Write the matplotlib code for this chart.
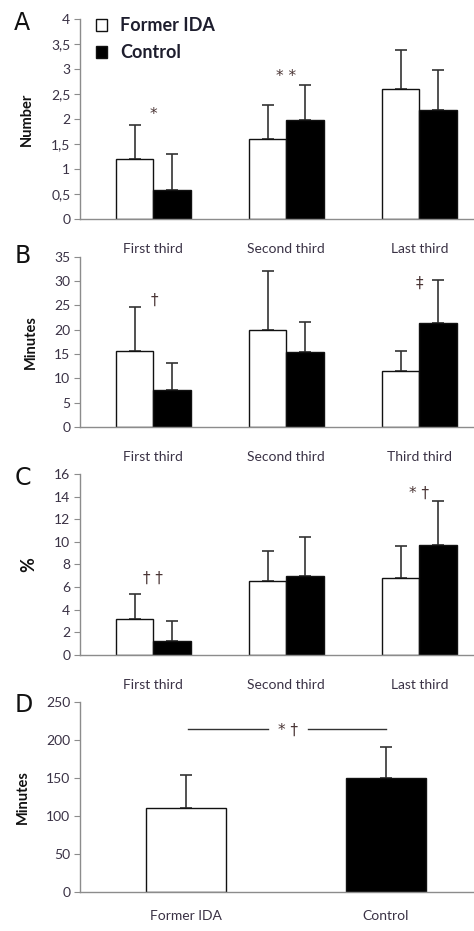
import matplotlib
matplotlib.use("Agg")
import matplotlib.pyplot as plt
import numpy as np

plt.rcParams['font.family'] = ['Lato', 'DejaVu Sans']

thirds_a = ["First third", "Second third", "Last third"]
thirds_b = ["First third", "Second third", "Third third"]
thirds_c = ["First third", "Second third", "Last third"]
groups_d = ["Former IDA", "Control"]

# panel A - number
a_ida = [1.2, 1.6, 2.6]
a_ida_sd = [0.67, 0.68, 0.77]
a_ctl = [0.58, 1.98, 2.18]
a_ctl_sd = [0.71, 0.70, 0.79]

# panel B - minutes
b_ida = [15.6, 20.0, 11.5]
b_ida_sd = [9.0, 12.0, 4.1]
b_ctl = [7.5, 15.4, 21.3]
b_ctl_sd = [5.7, 6.2, 8.9]

# panel C - %
c_ida = [3.2, 6.5, 6.8]
c_ida_sd = [2.2, 2.7, 2.8]
c_ctl = [1.2, 7.0, 9.7]
c_ctl_sd = [1.8, 3.4, 3.9]

# panel D - minutes
d_vals = [110, 149]
d_sd = [43, 42]

TXT = "#3a3245"
AXC = "#8c8c8c"
MARK = "#4a3535"

fig = plt.figure(figsize=(4.74, 9.31), dpi=100)


def style(ax, ylim, yticks, ylabels, ylab, lab_size=10.5):
    ax.set_ylim(*ylim)
    ax.set_yticks(yticks)
    ax.set_yticklabels(ylabels)
    for s in ["top", "right"]:
        ax.spines[s].set_visible(False)
    for s in ["left", "bottom"]:
        ax.spines[s].set_color(AXC)
        ax.spines[s].set_linewidth(1.0)
    ax.tick_params(axis="y", colors=AXC, labelcolor=TXT, labelsize=10,
                   length=4, width=0.8, direction="out", pad=3)
    ax.tick_params(axis="x", length=0, labelcolor=TXT, labelsize=10, pad=17)
    ax.set_ylabel(ylab, fontsize=lab_size, fontweight="bold", color="#111111",
                  labelpad=12)


def grouped(ax, ida, ida_sd, ctl, ctl_sd, cats):
    x = np.arange(len(cats))
    w = 0.28
    ax.bar(x - w / 2, ida, w, color="white", edgecolor="#111111", linewidth=1.0,
           label="Former IDA", zorder=2)
    ax.bar(x + w / 2, ctl, w, color="black", edgecolor="#111111", linewidth=1.0,
           label="Control", zorder=2)
    ax.errorbar(x - w / 2, ida, yerr=[np.zeros(len(ida)), ida_sd], fmt="none",
                ecolor="#333333", elinewidth=1.2, capsize=4, capthick=1.2, zorder=1)
    ax.errorbar(x + w / 2, ctl, yerr=[np.zeros(len(ctl)), ctl_sd], fmt="none",
                ecolor="#333333", elinewidth=1.2, capsize=4, capthick=1.2, zorder=1)
    ax.set_xticks(x)
    ax.set_xticklabels(cats)
    ax.set_xlim(-0.55, 2.41)


def mark(ax, x, y, s):
    ax.text(x, y, s, ha="center", va="center", fontsize=11, color=MARK,
            family="DejaVu Sans")


# A
axA = fig.add_axes([0.169, 0.7648, 0.831, 0.2148])
grouped(axA, a_ida, a_ida_sd, a_ctl, a_ctl_sd, thirds_a)
style(axA, (0, 4), np.arange(0, 4.01, 0.5),
      ["0", "0,5", "1", "1,5", "2", "2,5", "3", "3,5", "4"], "Number")
axA.legend(loc="upper left", bbox_to_anchor=(0.0, 1.09), frameon=False,
           prop={"weight": "bold", "size": 13}, handlelength=0.6,
           handleheight=0.6, handletextpad=0.7, labelspacing=0.55,
           labelcolor="#1e1e2e")
mark(axA, 0, 2.08, "*")
mark(axA, 1, 2.84, "* *")

# B
axB = fig.add_axes([0.169, 0.5414, 0.831, 0.1829])
grouped(axB, b_ida, b_ida_sd, b_ctl, b_ctl_sd, thirds_b)
style(axB, (0, 35), np.arange(0, 36, 5), [str(v) for v in range(0, 36, 5)],
      "Minutes")
mark(axB, 0.01, 26, "\u2020")
mark(axB, 2, 29.6, "\u2021")

# C
axC = fig.add_axes([0.169, 0.2965, 0.831, 0.1944])
grouped(axC, c_ida, c_ida_sd, c_ctl, c_ctl_sd, thirds_c)
style(axC, (0, 16), np.arange(0, 17, 2), [str(v) for v in range(0, 17, 2)],
      "%", lab_size=13)
mark(axC, 0, 6.8, "\u2020 \u2020")
mark(axC, 2, 14.3, "* \u2020")

# D
axD = fig.add_axes([0.169, 0.0422, 0.831, 0.2041])
xd = np.arange(len(groups_d))
axD.bar(xd, d_vals, 0.4, color=["white", "black"], edgecolor="#111111",
        linewidth=1.0, zorder=2)
axD.errorbar(xd, d_vals, yerr=[np.zeros(2), d_sd], fmt="none", ecolor="#333333",
             elinewidth=1.2, capsize=4, capthick=1.2, zorder=1)
axD.set_xticks(xd)
axD.set_xticklabels(groups_d)
axD.set_xlim(-0.53, 1.44)
style(axD, (0, 250), np.arange(0, 251, 50), [str(v) for v in range(0, 251, 50)],
      "Minutes")
axD.tick_params(axis="x", pad=13)
axD.plot([0.01, 0.41], [214, 214], color="#333333", lw=1.0)
axD.plot([0.61, 1.0], [214, 214], color="#333333", lw=1.0)
mark(axD, 0.51, 212, "* \u2020")

# panel letters
for lab, y in [("A", 0.975), ("B", 0.725), ("C", 0.487), ("D", 0.243)]:
    fig.text(0.03, y, lab, fontsize=17, ha="left", va="center", color="#111111",
             family="DejaVu Sans")

fig.savefig("out.png", dpi=100)
